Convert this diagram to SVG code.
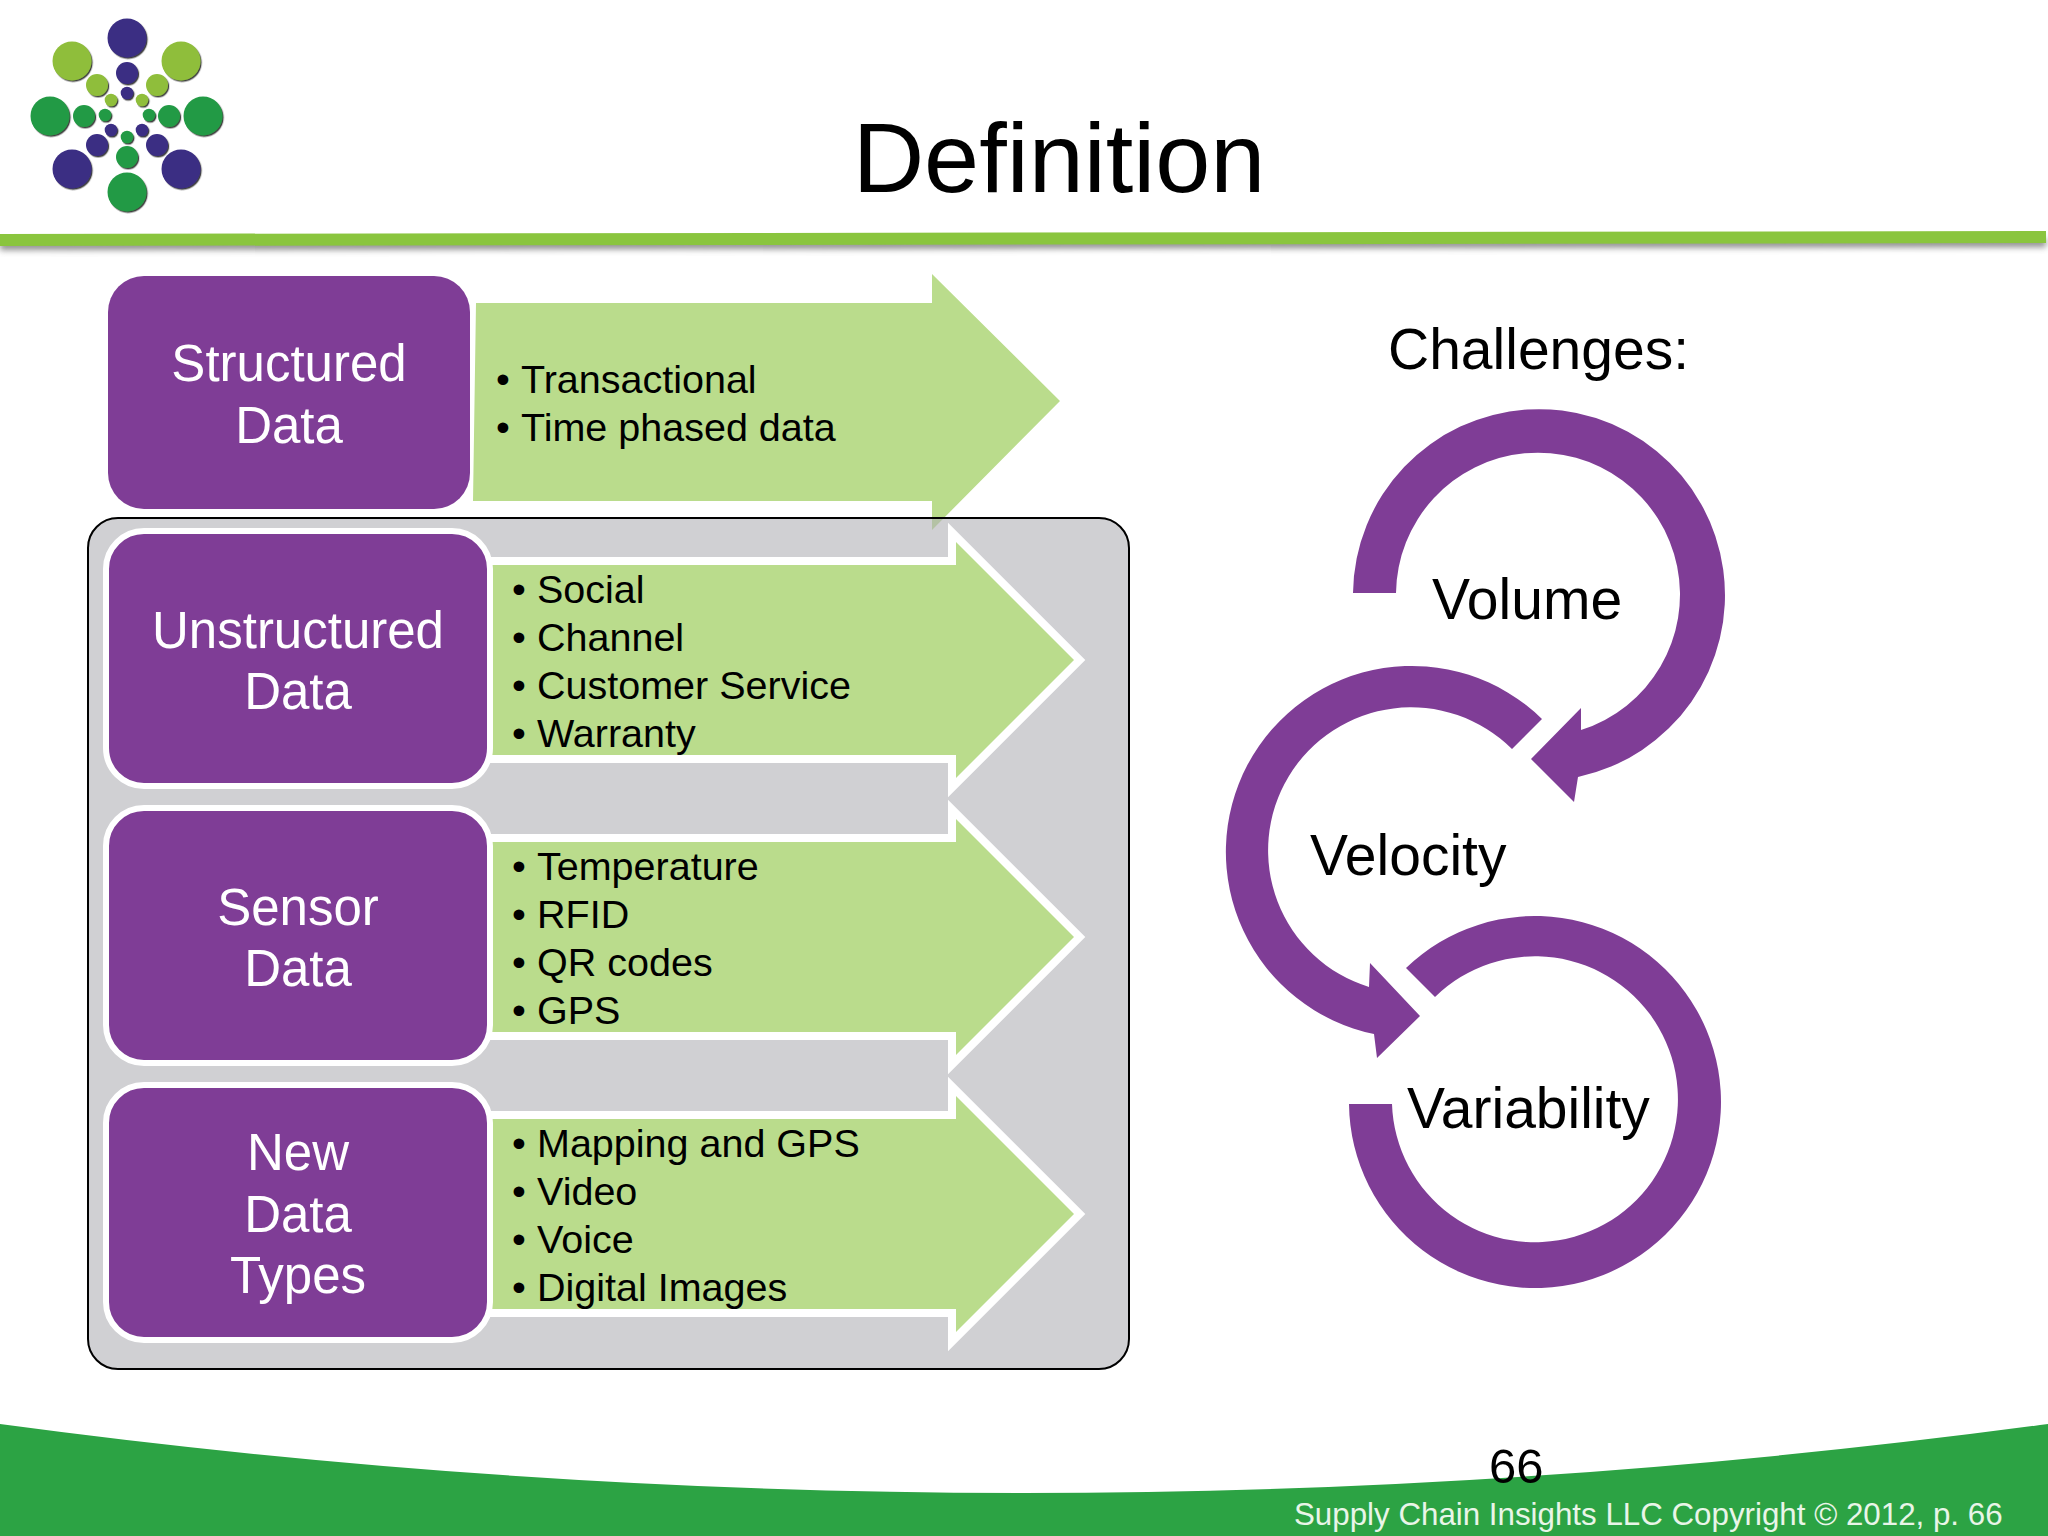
<svg xmlns="http://www.w3.org/2000/svg" width="2048" height="1536" viewBox="0 0 2048 1536">
<style>
text{font-family:"Liberation Sans",Arial,sans-serif}
.box{fill:#7f3d96}
.boxw{fill:#7f3d96;stroke:#fff;stroke-width:6}
.arrow{fill:#badc8c}
.arrowW{fill:#badc8c;stroke:#fff;stroke-width:16;paint-order:stroke;stroke-linejoin:miter;stroke-miterlimit:6}
.lbl{fill:#fff;font-size:51px;text-anchor:middle}
.itm{fill:#000;font-size:39.5px}
.ch{fill:#000;font-size:57px}
.ring{fill:#7f3d96}
.n{fill:#3a2d83}
.l{fill:#8fbe3a}
.g{fill:#229a44}
</style>
<defs>
<filter id="blur" x="-5%" y="-300%" width="110%" height="700%"><feGaussianBlur stdDeviation="3"/></filter>
<filter id="ds" x="-30%" y="-30%" width="160%" height="160%"><feDropShadow dx="1.2" dy="1.4" stdDeviation="0.6" flood-color="#222" flood-opacity="0.85"/></filter>
</defs>
<rect width="2048" height="1536" fill="#fff"/>

<g id="logo" filter="url(#ds)">
<circle class="n" cx="127" cy="38" r="19.5"/><circle class="l" cx="72" cy="61" r="19.5"/><circle class="l" cx="181" cy="61" r="19.5"/><circle class="g" cx="50" cy="116" r="19.5"/><circle class="g" cx="203" cy="116" r="19.5"/><circle class="n" cx="72" cy="169" r="19.5"/><circle class="n" cx="181" cy="169" r="19.5"/><circle class="g" cx="127" cy="192" r="19.5"/>
<circle class="n" cx="127" cy="73" r="11"/><circle class="l" cx="97" cy="85" r="11"/><circle class="l" cx="157" cy="85" r="11"/><circle class="g" cx="84" cy="116" r="11"/><circle class="g" cx="169" cy="116" r="11"/><circle class="n" cx="97" cy="145" r="11"/><circle class="n" cx="157" cy="145" r="11"/><circle class="g" cx="127" cy="157" r="11"/>
<circle class="n" cx="127" cy="93" r="6.3"/><circle class="l" cx="111" cy="100" r="6.3"/><circle class="l" cx="142" cy="100" r="6.3"/><circle class="g" cx="105" cy="115" r="6.3"/><circle class="g" cx="149" cy="115" r="6.3"/><circle class="n" cx="111" cy="130" r="6.3"/><circle class="n" cx="142" cy="130" r="6.3"/><circle class="g" cx="127" cy="137" r="6.3"/>
</g>

<g id="header">
<polygon points="0,241 2046,238 2046,247 0,250" fill="#666" opacity="0.75" filter="url(#blur)"/>
<polygon points="0,234 2046,231 2046,243 0,246" fill="#8ac53e"/>
<text x="1059" y="192" font-size="99" text-anchor="middle" fill="#000">Definition</text>
</g>

<polygon id="arrow-structured" class="arrow" points="476,303 932,303 932,274 1060,401 932,530 932,501 473,501"/>
<rect id="panel" x="88" y="518" width="1041" height="851" rx="30" fill="#b1b1b6" fill-opacity="0.6" stroke="#000" stroke-width="2"/>

<g id="connectors">
<polygon class="arrowW" points="480,565 956,565 956,542 1074,660 956,778 956,755 480,755"/>
<polygon class="arrowW" points="480,842 956,842 956,819 1074,937 956,1055 956,1032 480,1032"/>
<polygon class="arrowW" points="480,1119 956,1119 956,1096 1074,1214 956,1332 956,1309 480,1309"/>
</g>

<g id="structured">
<rect class="box" x="108" y="276" width="362" height="233" rx="36"/>
<text class="lbl" x="289" y="381">Structured</text><text class="lbl" x="289" y="443">Data</text>
<text class="itm" x="496" y="393">•</text><text class="itm" x="521" y="393">Transactional</text>
<text class="itm" x="496" y="441">•</text><text class="itm" x="521" y="441">Time phased data</text>
</g>
<g id="unstructured">
<rect class="boxw" x="106" y="531" width="384" height="255" rx="38"/>
<text class="lbl" x="298" y="648">Unstructured</text><text class="lbl" x="298" y="709">Data</text>
<text class="itm" x="512" y="603">•</text><text class="itm" x="537" y="603">Social</text>
<text class="itm" x="512" y="651">•</text><text class="itm" x="537" y="651">Channel</text>
<text class="itm" x="512" y="699">•</text><text class="itm" x="537" y="699">Customer Service</text>
<text class="itm" x="512" y="747">•</text><text class="itm" x="537" y="747">Warranty</text>
</g>
<g id="sensor">
<rect class="boxw" x="106" y="808" width="384" height="255" rx="38"/>
<text class="lbl" x="298" y="925">Sensor</text><text class="lbl" x="298" y="986">Data</text>
<text class="itm" x="512" y="880">•</text><text class="itm" x="537" y="880">Temperature</text>
<text class="itm" x="512" y="928">•</text><text class="itm" x="537" y="928">RFID</text>
<text class="itm" x="512" y="976">•</text><text class="itm" x="537" y="976">QR codes</text>
<text class="itm" x="512" y="1024">•</text><text class="itm" x="537" y="1024">GPS</text>
</g>
<g id="newtypes">
<rect class="boxw" x="106" y="1085" width="384" height="255" rx="38"/>
<text class="lbl" x="298" y="1170">New</text><text class="lbl" x="298" y="1232">Data</text><text class="lbl" x="298" y="1293">Types</text>
<text class="itm" x="512" y="1157">•</text><text class="itm" x="537" y="1157">Mapping and GPS</text>
<text class="itm" x="512" y="1205">•</text><text class="itm" x="537" y="1205">Video</text>
<text class="itm" x="512" y="1253">•</text><text class="itm" x="537" y="1253">Voice</text>
<text class="itm" x="512" y="1301">•</text><text class="itm" x="537" y="1301">Digital Images</text>
</g>

<text id="challenges" x="1388" y="369" font-size="57" fill="#000">Challenges:</text>
<g id="volume">
<path class="ring" d="M1353,593 A186,186 0 1 1 1578,777 L1574,802 L1531,759 L1581,708 L1581,730 A142,142 0 1 0 1396,593 Z"/>
<text class="ch" x="1432" y="619">Volume</text>
</g>
<g id="velocity">
<path class="ring" d="M1542,719 A186,186 0 1 0 1374,1034 L1377,1058 L1420,1016 L1370,963 L1369,987 A143,143 0 1 1 1512,749 Z"/>
<text class="ch" x="1310" y="875">Velocity</text>
</g>
<g id="variability">
<path class="ring" d="M1406,968 A186,186 0 1 1 1349,1104 L1392,1104 A143,143 0 1 0 1435,997 Z"/>
<text class="ch" x="1407" y="1128">Variability</text>
</g>

<g id="footer">
<path d="M0,1424 Q1024,1562 2048,1424 L2048,1536 L0,1536 Z" fill="#2ca344"/>
<text x="1489" y="1483" font-size="49" fill="#000">66</text>
<text x="1294" y="1525" font-size="31.3" fill="#e9f5e8">Supply Chain Insights LLC Copyright © 2012, p. 66</text>
</g>
</svg>
